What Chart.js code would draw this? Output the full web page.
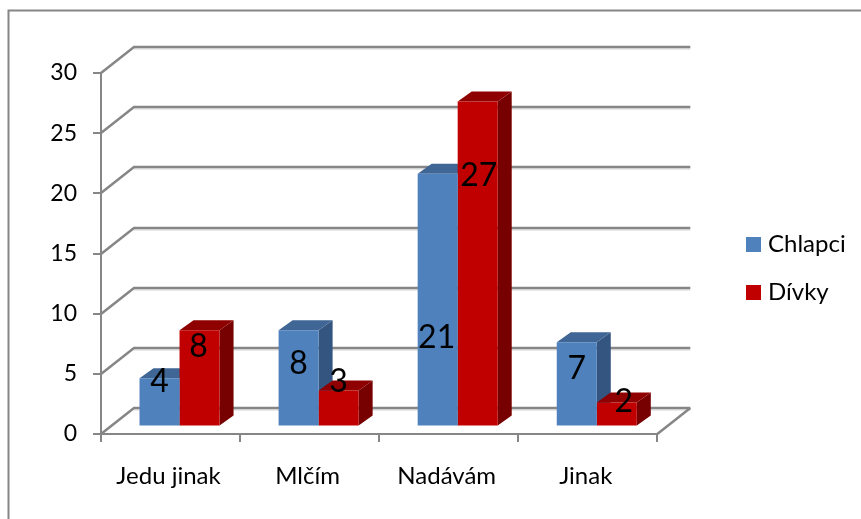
<!DOCTYPE html>
<html><head><meta charset="utf-8">
<style>html,body{margin:0;padding:0;background:#fff}#w{width:861px;height:519px}canvas{display:block}</style>
<script src="https://cdn.jsdelivr.net/npm/chart.js@4"></script>
</head><body><div id="w"><canvas id="c" width="861" height="519"></canvas></div>
<script>
const categories = ['Jedu jinak', 'Mlčím', 'Nadávám', 'Jinak'];
const chlapci = [4, 8, 21, 7];
const divky = [8, 3, 27, 2];
const yTicks = [0, 5, 10, 15, 20, 25, 30];

// styling and placement constants (not data)
const FONT = 'Lato';
const GRAY = '#868686';
const WALL = {dx: 33, dy: -26};
const SHIFT = {dx: 9, dy: -7.5};
const DEPTH = {dx: 14, dy: -10};
const faces = [
  {front: '#4F81BD', top: '#3F6694', side: '#335580'},
  {front: '#C00000', top: '#8F0000', side: '#770000'}
];
const labelNudge = [
  [[0, 3], [0, 33], [-1, 164], [0, 26]],
  [[-1, 16], [0, -9], [1, 74], [7, -1]]
];

const scene = {
  id: 'scene',
  beforeDraw(chart) {
    const c = chart.ctx, a = chart.chartArea, ys = chart.scales.y;
    c.save();
    c.strokeStyle = GRAY; c.lineWidth = 2;
    c.beginPath(); c.moveTo(8.5, 530); c.lineTo(8.5, 10.5); c.lineTo(870, 10.5); c.stroke();
    yTicks.forEach(v => {
      const y = Math.round(ys.getPixelForValue(v));
      c.strokeStyle = '#d4d4d4'; c.lineWidth = 1;
      c.beginPath(); c.moveTo(a.left + WALL.dx, y + WALL.dy + 2); c.lineTo(a.right + WALL.dx, y + WALL.dy + 2); c.stroke();
      c.strokeStyle = GRAY; c.lineWidth = 2.5;
      c.beginPath();
      c.moveTo(a.left, y); c.lineTo(a.left + WALL.dx, y + WALL.dy); c.lineTo(a.right + WALL.dx, y + WALL.dy);
      c.stroke();
    });
    const y0 = Math.round(ys.getPixelForValue(0));
    c.beginPath(); c.moveTo(a.right, y0); c.lineTo(a.right + WALL.dx, y0 + WALL.dy); c.stroke();
    c.restore();
  },
  afterLayout(chart) {
    const l = chart.legend;
    const h = l.bottom - l.top, w = l.right - l.left;
    l.left = 727; l.right = 727 + w;
    const mid = 268.5;
    l.top = mid - h / 2; l.bottom = mid + h / 2;
  },
  beforeDatasetsDraw(chart) {
    const c = chart.ctx;
    c.save();
    c.translate(SHIFT.dx, SHIFT.dy);
    chart.data.datasets.forEach((ds, i) => {
      const f = faces[i];
      chart.getDatasetMeta(i).data.forEach(bar => {
        const p = bar.getProps(['x', 'y', 'base', 'width'], true);
        const l = p.x - p.width / 2, r = p.x + p.width / 2;
        c.fillStyle = f.side;
        c.beginPath();
        c.moveTo(r, p.y); c.lineTo(r + DEPTH.dx, p.y + DEPTH.dy);
        c.lineTo(r + DEPTH.dx, p.base + DEPTH.dy); c.lineTo(r, p.base);
        c.closePath(); c.fill();
        c.fillStyle = f.top;
        c.beginPath();
        c.moveTo(l, p.y); c.lineTo(l + DEPTH.dx, p.y + DEPTH.dy);
        c.lineTo(r + DEPTH.dx, p.y + DEPTH.dy); c.lineTo(r, p.y);
        c.closePath(); c.fill();
      });
    });
    c.restore();
  },
  beforeDatasetDraw(chart) {
    chart.ctx.save();
    chart.ctx.translate(SHIFT.dx, SHIFT.dy);
  },
  afterDatasetDraw(chart) {
    chart.ctx.restore();
  },
  afterDatasetsDraw(chart) {
    const c = chart.ctx;
    c.save();
    c.font = '32px ' + FONT;
    c.fillStyle = '#000';
    c.textAlign = 'center';
    c.textBaseline = 'middle';
    chart.data.datasets.forEach((ds, i) => {
      chart.getDatasetMeta(i).data.forEach((bar, j) => {
        const p = bar.getProps(['x', 'y'], true), n = labelNudge[i][j];
        c.fillText(String(ds.data[j]), p.x + SHIFT.dx + n[0], p.y + SHIFT.dy + n[1]);
      });
    });
    c.restore();
  }
};

new Chart(document.getElementById('c'), {
  type: 'bar',
  data: {
    labels: categories,
    datasets: [
      {label: 'Chlapci', data: chlapci, backgroundColor: faces[0].front, clip: false},
      {label: 'Dívky', data: divky, backgroundColor: faces[1].front, clip: false}
    ]
  },
  options: {
    responsive: false,
    animation: false,
    events: [],
    categoryPercentage: 0.5755,
    barPercentage: 1,
    layout: {padding: {top: 73, left: 0, bottom: 0, right: 75}},
    plugins: {
      tooltip: {enabled: false},
      legend: {
        position: 'right',
        labels: {
          boxWidth: 5, boxHeight: 5, padding: 24, color: '#000', font: {family: FONT, size: 24},
          generateLabels(chart) {
            return chart.data.datasets.map((ds, i) => ({
              text: ds.label, fillStyle: ds.backgroundColor, strokeStyle: ds.backgroundColor,
              lineWidth: 10, fontColor: '#000', datasetIndex: i
            }));
          }
        }
      }
    },
    scales: {
      x: {
        afterFit(s) { s.height = 85; },
        border: {color: GRAY, width: 2},
        grid: {drawOnChartArea: false, color: GRAY, lineWidth: 2, tickLength: 8, tickColor: GRAY, tickWidth: 2},
        ticks: {color: '#000', padding: 20, labelOffset: -2, maxRotation: 0, font: {family: FONT, size: 24}}
      },
      y: {
        min: 0, max: 30,
        afterFit(s) { s.width = 101; },
        afterBuildTicks(s) { s.ticks = yTicks.map(v => ({value: v})); },
        border: {color: GRAY, width: 2},
        grid: {drawOnChartArea: false, color: GRAY, lineWidth: 2, tickLength: 8, tickColor: GRAY, tickWidth: 2},
        ticks: {color: '#000', padding: 16, font: {family: FONT, size: 23}}
      }
    }
  },
  plugins: [scene]
});
</script></body></html>
